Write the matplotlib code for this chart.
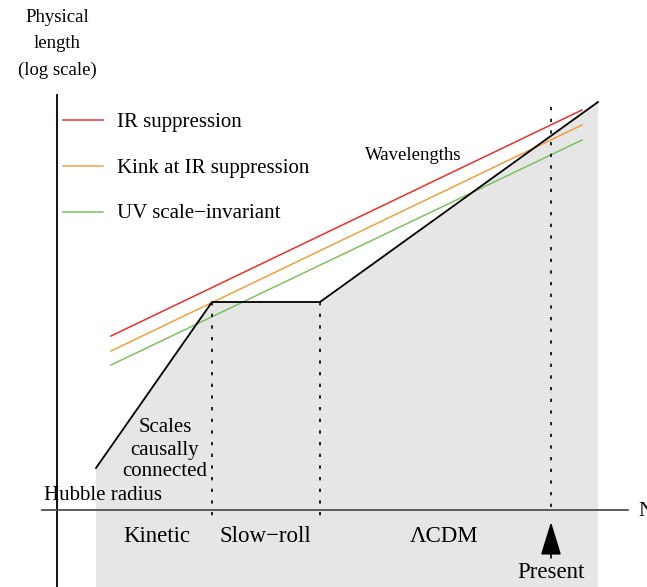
import matplotlib
matplotlib.use("Agg")
import matplotlib.pyplot as plt
from matplotlib.patches import Polygon

# sketch coordinates (x = N, y = physical length, drawn top-down)
hubble_x = [96, 212, 320, 598]
hubble_y = [468, 302, 302, 102]

wave_x = [111, 582]
ir_y = [336, 110]
kink_y = [351, 125]
uv_y = [365, 140]

phase_x = [212, 320]          # kinetic/slow-roll and slow-roll/LCDM boundaries
phase_top = 302
present_x = 551
present_top = 107

axis_y = 510
fig_w, fig_h = 647, 587

legend_labels = ["IR suppression", "Kink at IR suppression", "UV scale\u2212invariant"]
legend_colors = ["#e8302a", "#f0a040", "#80c060"]
legend_y = [120, 166, 212]

phase_labels = ["Kinetic", "Slow\u2212roll", "\u039bCDM"]
phase_label_x = [157, 265, 444]

plt.rcParams['font.family'] = ['Liberation Serif', 'DejaVu Serif']

fig = plt.figure(figsize=(6.47, 5.87), dpi=100)
ax = fig.add_axes([0, 0, 1, 1])
ax.set_xlim(0, fig_w)
ax.set_ylim(fig_h, 0)
ax.axis('off')

dy = 2  # text baseline nudge

# shaded region below the Hubble radius
poly = list(zip(hubble_x, hubble_y)) + [(hubble_x[-1], fig_h), (hubble_x[0], fig_h)]
ax.add_patch(Polygon(poly, closed=True, facecolor='#e6e6e6', edgecolor='none', zorder=0))

# axes
ax.plot([57, 57], [95, fig_h], color='black', lw=1.3, zorder=3)
ax.plot([42, 628], [axis_y, axis_y], color='#505050', lw=1.3, zorder=3)
ax.text(638, axis_y + dy, "N", fontsize=15, va='center', ha='left')

# wavelengths
for yy, c in zip([ir_y, kink_y, uv_y], legend_colors):
    ax.plot(wave_x, yy, color=c, lw=1.1, zorder=2)

# Hubble radius
ax.plot(hubble_x, hubble_y, color='black', lw=1.3, zorder=4)

# dotted boundaries
for px in phase_x:
    ax.plot([px, px], [phase_top, 517], color='black', lw=1.2,
            linestyle=(0, (2, 5)), zorder=3)
ax.plot([present_x, present_x], [present_top, 510], color='black', lw=1.2,
        linestyle=(0, (2, 5)), zorder=3)

# legend
for lab, c, yy in zip(legend_labels, legend_colors, legend_y):
    ax.plot([63, 103], [yy, yy], color=c, lw=1.1)
    ax.text(117, yy + dy, lab, fontsize=15, va='center', ha='left')

ax.text(413, 153 + dy, "Wavelengths", fontsize=13.5, va='center', ha='center')

for t, yy in zip(["Physical", "length", "(log scale)"], [15, 41, 68]):
    ax.text(57, yy + dy, t, fontsize=13.5, va='center', ha='center')

for t, yy in zip(["Scales", "causally", "connected"], [426, 448, 469]):
    ax.text(165, yy + dy, t, fontsize=15, va='center', ha='center')

ax.text(44, 493 + dy, "Hubble radius", fontsize=15, va='center', ha='left')

for t, xx in zip(phase_labels, phase_label_x):
    ax.text(xx, 535 + dy, t, fontsize=16.5, va='center', ha='center')

# present marker
ax.annotate("", xy=(present_x, 522), xytext=(present_x, 558),
            arrowprops=dict(arrowstyle='-|>,head_length=1.3,head_width=0.4',
                            color='black', lw=1.2, shrinkA=0, shrinkB=0,
                            mutation_scale=16))
ax.text(present_x, 570 + dy, "Present", fontsize=16.5, va='center', ha='center')

fig.savefig("out.png", dpi=100)
